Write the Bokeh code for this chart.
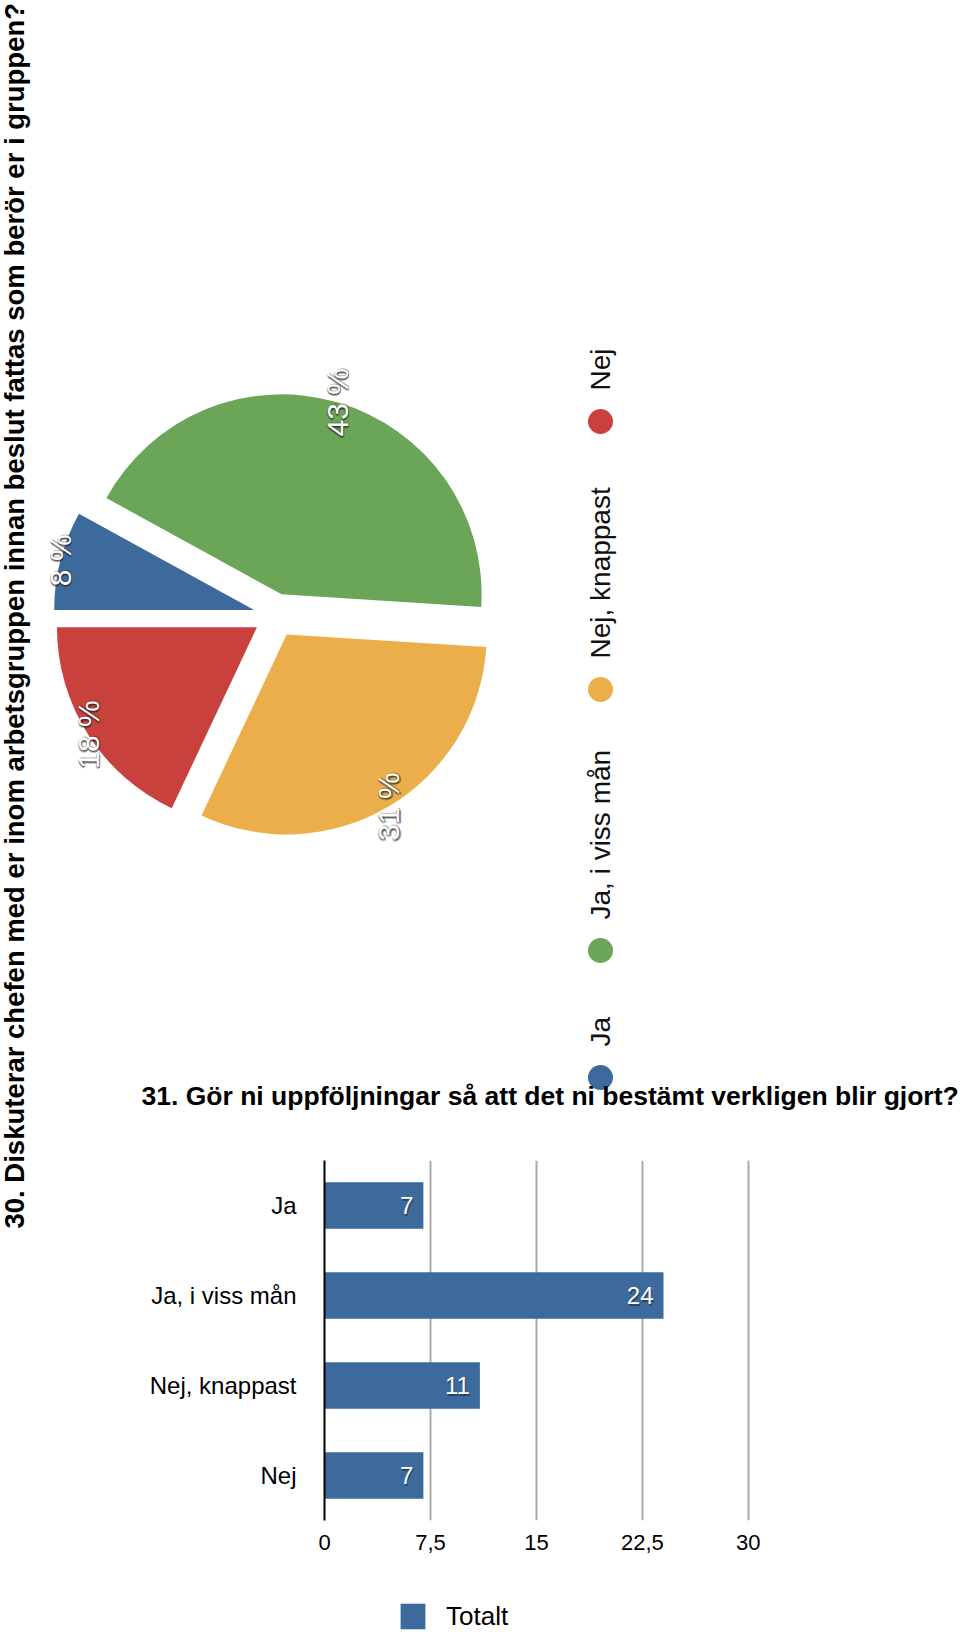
import math
from bokeh.plotting import figure
from bokeh.layouts import row, column
from bokeh.models import (Range1d, FactorRange, Label, Legend, LegendItem, FixedTicker,
                          CustomJSTickFormatter, ColumnDataSource)
from bokeh.core.properties import value
from bokeh.embed import file_html
from bokeh.resources import INLINE

# ---------------- data ----------------
pie_title = "30. Diskuterar chefen med er inom arbetsgruppen innan beslut fattas som berör er i gruppen?"
pie_categories = ["Ja", "Ja, i viss mån", "Nej, knappast", "Nej"]
pie_percent = [8, 43, 31, 18]
pie_colors = ["#3c6a9c", "#6aa558", "#ecae4a", "#c9413d"]

bar_title = "31. Gör ni uppföljningar så att det ni bestämt verkligen blir gjort?"
bar_categories = ["Ja", "Ja, i viss mån", "Nej, knappast", "Nej"]
bar_values = [7, 24, 11, 7]
bar_series = "Totalt"
bar_ticks = [0, 7.5, 15, 22.5, 30]
bar_color = "#3c6a9c"

# ---------------- layout constants ----------------
FONT = "Liberation Sans"
STRIP_W, MAIN_W = 40, 920
PIE_H, BAR_H, LEG_H = 1115, 448, 69
TOTAL_H = PIE_H + BAR_H + LEG_H

# pie geometry (pixel units in pie figure)
CX, CY, R, EXPLODE = 235, 500, 200, 22
LEG_X = 560
LEG_Y = [38, 165, 426, 694]


def bare(fig):
    fig.grid.visible = False
    fig.outline_line_color = None
    fig.background_fill_color = "white"
    fig.border_fill_color = "white"
    return fig


# ---------------- title strip ----------------
strip = figure(width=STRIP_W, height=TOTAL_H, x_range=Range1d(0, STRIP_W),
               y_range=Range1d(0, TOTAL_H), x_axis_location=None, y_axis_location=None,
               min_border=0, toolbar_location=None, output_backend="svg")
bare(strip)
strip.add_layout(Label(x=14, y=404, text=pie_title, angle=math.pi / 2,
                       text_align="left", text_baseline="alphabetic",
                       text_font=FONT, text_font_style="bold",
                       text_font_size="27.5px", text_color="black"))

# ---------------- pie ----------------
pie = figure(width=MAIN_W, height=PIE_H, x_range=Range1d(0, MAIN_W),
             y_range=Range1d(0, PIE_H), x_axis_location=None, y_axis_location=None,
             min_border=0, toolbar_location=None, output_backend="svg")
bare(pie)

a = math.pi
starts, ends, wx, wy, lx, ly, labels = [], [], [], [], [], [], []
for pct in pie_percent:
    sweep = pct / 100 * 2 * math.pi
    end = a
    start = a - sweep
    a = start
    mid = (start + end) / 2
    x = CX + EXPLODE * math.cos(mid)
    y = CY + EXPLODE * math.sin(mid)
    starts.append(start)
    ends.append(end)
    wx.append(x)
    wy.append(y)
    lx.append(x + R * math.cos(mid))
    ly.append(y + R * math.sin(mid))
    labels.append(f"{pct} %")

pie_src = ColumnDataSource(dict(x=wx, y=wy, start=starts, end=ends, color=pie_colors,
                                lx=lx, ly=ly, label=labels))
pie.wedge(x="x", y="y", radius=R, start_angle="start", end_angle="end",
          fill_color="color", line_color=None, source=pie_src)

for dx, dy, al in [(1.5, 1.5, 0.5), (-1, 1, 0.35), (1, -1, 0.35), (0, 2.5, 0.3)]:
    pie.text(x="lx", y="ly", text="label", source=pie_src, angle=math.pi / 2,
             text_align="center", text_baseline="middle", x_offset=dx, y_offset=dy,
             text_font=value(FONT), text_font_size="30px", text_color="#222222",
             text_alpha=al)
pie.text(x="lx", y="ly", text="label", source=pie_src, angle=math.pi / 2,
         text_align="center", text_baseline="middle",
         text_font=value(FONT), text_font_size="30px", text_color="white")

leg_src = ColumnDataSource(dict(x=[LEG_X] * len(pie_categories), y=LEG_Y,
                                ty=[v + 31 for v in LEG_Y],
                                cat=pie_categories, color=pie_colors))
pie.scatter(x="x", y="y", size=25, marker="circle", fill_color="color",
            line_color=None, source=leg_src)
pie.text(x="x", y="ty", text="cat", source=leg_src, angle=math.pi / 2,
         text_align="left", text_baseline="middle", text_font=value(FONT),
         text_font_size="28px", text_color="#111111")

# title of the bar chart (placed in the upper canvas so it is never clipped)
pie.add_layout(Label(x=101, y=20, text=bar_title, text_align="left",
                     text_baseline="alphabetic", text_font=FONT,
                     text_font_style="bold", text_font_size="26.5px",
                     text_color="black"))

# ---------------- bar ----------------
bar = figure(width=MAIN_W, height=BAR_H,
             y_range=FactorRange(factors=list(reversed(bar_categories)), range_padding=0),
             x_range=Range1d(0, 30.3), min_border_left=284, min_border_right=208,
             min_border_top=45, min_border_bottom=43,
             toolbar_location=None, output_backend="svg")
bar.outline_line_color = None
bar.ygrid.visible = False

bar_src = ColumnDataSource(dict(y=bar_categories, right=bar_values,
                                label=[str(v) for v in bar_values]))
hb = bar.hbar(y="y", right="right", left=0, height=0.515, fill_color=bar_color,
              line_color=None, source=bar_src)

bar.text(x="right", y="y", text="label", source=bar_src, x_offset=-9, y_offset=1.5,
         text_align="right", text_baseline="middle", text_font=value(FONT),
         text_font_size="24px", text_color="#111111", text_alpha=0.45)
bar.text(x="right", y="y", text="label", source=bar_src, x_offset=-10,
         text_align="right", text_baseline="middle", text_font=value(FONT),
         text_font_size="24px", text_color="white")

bar.xgrid.ticker = FixedTicker(ticks=bar_ticks)
bar.xgrid.grid_line_color = "#aaaaaa"
bar.xgrid.grid_line_width = 2
bar.xgrid.level = "underlay"

xa = bar.xaxis[0]
xa.ticker = FixedTicker(ticks=bar_ticks)
xa.formatter = CustomJSTickFormatter(code="return tick.toString().replace('.', ',')")
xa.axis_line_color = None
xa.major_tick_line_color = None
xa.minor_tick_line_color = None
xa.major_label_standoff = 8
xa.major_label_text_font = FONT
xa.major_label_text_font_size = "22px"
xa.major_label_text_color = "black"

ya = bar.yaxis[0]
ya.axis_line_color = "black"
ya.axis_line_width = 2
ya.major_tick_line_color = None
ya.minor_tick_line_color = None
ya.major_label_standoff = 22
ya.major_label_text_font = FONT
ya.major_label_text_font_size = "24px"
ya.major_label_text_color = "black"

# ---------------- bar legend (own canvas below the bar chart) ----------------
legfig = figure(width=MAIN_W, height=LEG_H, x_range=Range1d(0, MAIN_W),
                y_range=Range1d(0, LEG_H), x_axis_location=None, y_axis_location=None,
                min_border=0, toolbar_location=None, output_backend="svg")
bare(legfig)
# zero-width proxy bar: only supplies the legend swatch, draws nothing itself
legend_glyph = legfig.hbar(y=[0], right=[0], left=0, height=1, fill_color=bar_color,
                           line_color=None)
legend = Legend(items=[LegendItem(label=bar_series, renderers=[legend_glyph])],
                location=(357, 0), orientation="horizontal",
                padding=0, margin=0, spacing=0, border_line_color=None,
                background_fill_alpha=0, glyph_width=31, glyph_height=32,
                label_standoff=18, label_text_font=FONT, label_text_font_size="26px",
                label_text_color="black", label_height=32)
legfig.add_layout(legend)

layout = row(strip, column(row(pie, spacing=0), row(bar, spacing=0),
                           row(legfig, spacing=0), spacing=0), spacing=0)

open("out.html", "w").write(file_html(layout, INLINE))
